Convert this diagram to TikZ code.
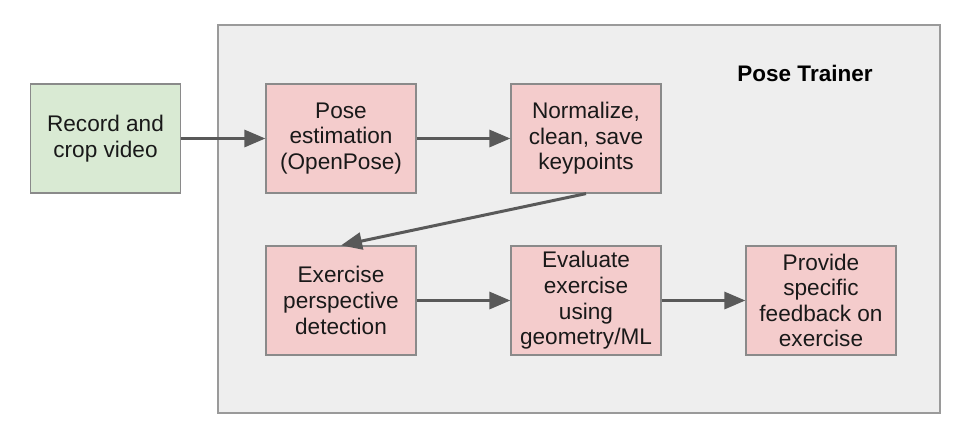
\documentclass[tikz,border=0pt]{standalone}
\usepackage{fontspec}
\setmainfont{Liberation Sans}
\usetikzlibrary{arrows.meta}
\definecolor{boxfill}{HTML}{EEEEEE}
\definecolor{boxline}{HTML}{9A9A9A}
\definecolor{pinkfill}{HTML}{F4CCCC}
\definecolor{greenfill}{HTML}{D9EAD3}
\definecolor{nodeline}{HTML}{8A8A8A}
\definecolor{arrowcol}{HTML}{595959}
\begin{document}
\begin{tikzpicture}[x=1pt,y=-1pt,
  stepbox/.style={draw=nodeline,line width=1.2pt,minimum width=150pt,minimum height=109pt,inner sep=2pt,align=center,font=\fontsize{22.6}{25.6}\selectfont,text=black!90},
  pinkbox/.style={stepbox,fill=pinkfill},
  greenbox/.style={stepbox,fill=greenfill},
  flow/.style={draw=arrowcol,line width=3pt,-{Triangle[length=21pt,width=17pt]}}]
\useasboundingbox (0,0) rectangle (974,440);
\fill[white] (0,0) rectangle (974,440);
\node[draw=boxline,fill=boxfill,line width=1.5pt,minimum width=722pt,minimum height=388pt,inner sep=0pt] (frame) at (579,219) {};
\node[font=\fontsize{22.5}{26}\selectfont\bfseries,text=black] (title) at (805,73) {Pose Trainer};
\node[greenbox] (rec) at (105.5,138.5) {Record and\\crop video};
\node[pinkbox] (pose) at (341,138.5) {Pose\\estimation\\(OpenPose)};
\node[pinkbox] (norm) at (586,138.5) {Normalize,\\clean, save\\keypoints};
\node[pinkbox] (persp) at (341,300.5) {Exercise\\perspective\\detection};
\node[pinkbox] (eval) at (586,300.5) {Evaluate\\exercise\\using\\geometry/ML};
\node[pinkbox] (feed) at (821,300.5) {Provide\\specific\\feedback on\\exercise};
\draw[flow] (rec) -- (pose);
\draw[flow] (pose) -- (norm);
\draw[flow] (norm.south) -- (persp.north);
\draw[flow] (persp) -- (eval);
\draw[flow] (eval) -- (feed);
\end{tikzpicture}
\end{document}
